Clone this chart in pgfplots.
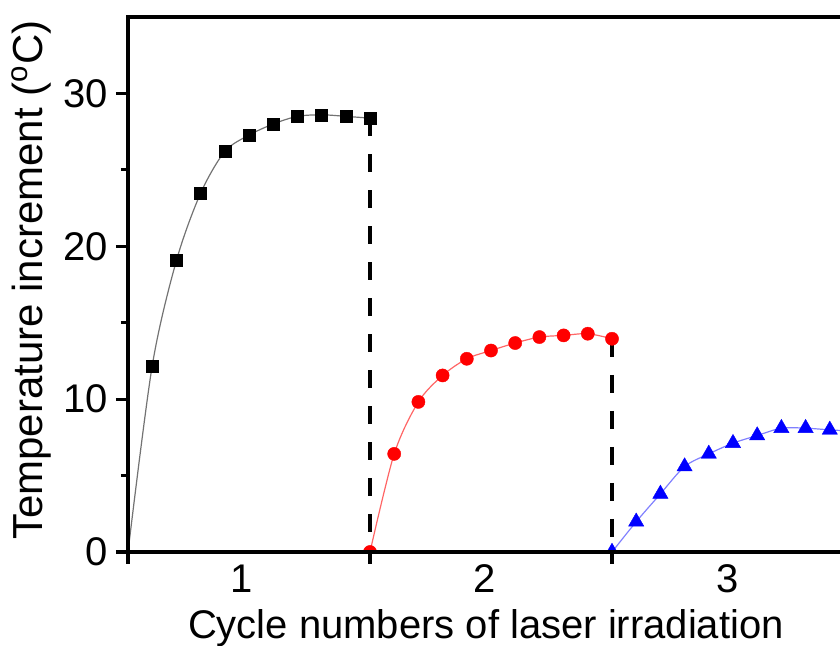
\documentclass[border=0pt]{standalone}
\usepackage{fontspec}
\setmainfont{Liberation Sans}
\usepackage{pgfplots}
\pgfplotsset{compat=1.18}
\begin{document}
\begin{tikzpicture}
\path[use as bounding box] (-64pt,-47pt) rectangle (356pt,276pt);
\begin{axis}[
  at={(0,0)}, anchor=south west,
  scale only axis,
  width=363pt, height=267.5pt,
  xmin=0, xmax=3, ymin=0, ymax=35,
  axis on top,
  axis line style={line width=2.2pt, black},
  clip marker paths=true,
  tick align=outside,
  xtick pos=bottom, ytick pos=left,
  major tick length=6pt, minor tick length=3.5pt,
  every tick/.style={line width=1.6pt, black},
  xtick={0,1,2,3}, xticklabels={},
  extra x ticks={0.471,1.475,2.479},
  extra x tick labels={1,2,3},
  extra x tick style={major tick length=0pt, every tick/.style={draw=none},
    xticklabel style={anchor=base, inner sep=0pt, yshift=-20.5pt}},
  ytick={0,10,20,30}, minor ytick={5,15,25},
  yticklabel style={anchor=east, inner sep=0pt, xshift=-4pt},
  tick label style={font=\fontsize{20}{24}\selectfont},
  /pgf/number format/assume math mode=true,
  xlabel={Cycle numbers of laser irradiation},
  xlabel style={font=\fontsize{20}{24}\selectfont, at={(axis description cs:0.493,-0.1610)}, anchor=base},
  ylabel={Temperature increment (\textsuperscript{o}C)},
  ylabel style={font=\fontsize{21}{25}\selectfont, at={(axis description cs:-0.1171,0.508)}, anchor=base},
]
% dashed separators
\addplot[black, line width=2pt, dash pattern=on 9pt off 9pt] coordinates {(1,28.38) (1,0)};
\addplot[black, line width=2pt, dash pattern=on 9pt off 9pt] coordinates {(2,13.95) (2,0)};
% cycle 1
\addplot[black!55, line width=0.6pt, smooth, mark=square*,
  mark size=3pt, mark indices={2,...,11},
  mark options={fill=black, draw=black, line width=0.2pt, solid}]
  coordinates {(0,0) (0.1,12.18) (0.2,19.06) (0.3,23.47) (0.4,26.2) (0.5,27.27)
  (0.6,28.0) (0.7,28.5) (0.8,28.6) (0.9,28.5) (1.0,28.38)};
% cycle 2
\addplot[red!60, line width=0.6pt, smooth, mark=*,
  mark size=3.3pt,
  mark options={fill=red, draw=red, line width=0.2pt, solid}]
  coordinates {(1.0,0) (1.1,6.42) (1.2,9.82) (1.3,11.55) (1.4,12.64) (1.5,13.18)
  (1.6,13.67) (1.7,14.06) (1.8,14.17) (1.9,14.28) (2.0,13.95)};
% cycle 3
\addplot[blue!50, line width=0.6pt, smooth, mark=triangle*,
  mark size=4.4pt,
  mark options={fill=blue, draw=blue, line width=0.2pt, solid}]
  coordinates {(2.0,0) (2.1,1.98) (2.2,3.8) (2.3,5.59) (2.4,6.42) (2.5,7.12)
  (2.6,7.62) (2.7,8.1) (2.8,8.1) (2.9,7.99) (3.0,7.9)};
\end{axis}
\end{tikzpicture}
\end{document}
